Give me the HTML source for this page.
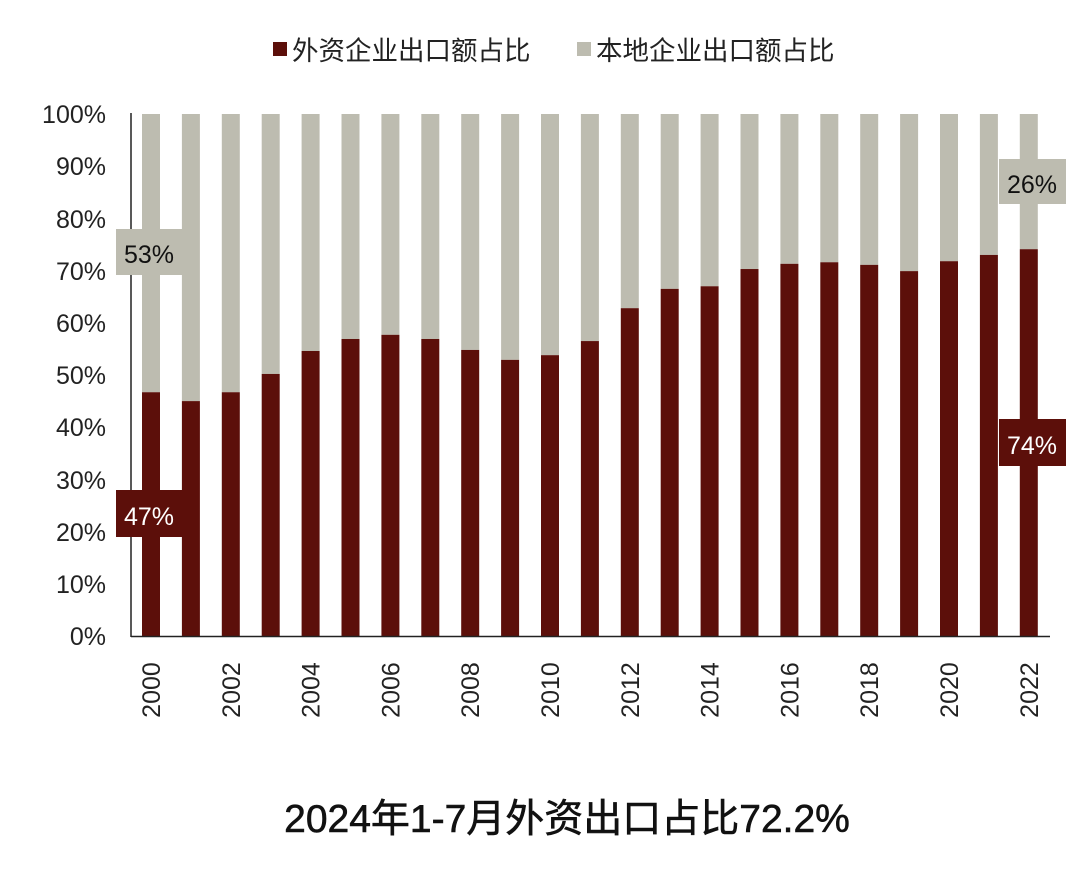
<!DOCTYPE html>
<html><head><meta charset="utf-8"><style>
body{margin:0;background:#fff;}
text{font-family:"Liberation Sans","Noto Sans CJK SC",sans-serif;}
</style></head><body>
<svg width="1080" height="880" xmlns="http://www.w3.org/2000/svg">
<rect width="1080" height="880" fill="#fff"/>
<rect x="273" y="42" width="14" height="14" fill="#5c0f0a"/>
<text x="292" y="60" font-size="26.5" fill="#222">外资企业出口额占比</text>
<rect x="577" y="42" width="14" height="14" fill="#bdbcb0"/>
<text x="596" y="60" font-size="26.5" fill="#222">本地企业出口额占比</text>
<g font-size="25" fill="#222" text-anchor="end">
<text x="106" y="645">0%</text>
<text x="106" y="593">10%</text>
<text x="106" y="541">20%</text>
<text x="106" y="489">30%</text>
<text x="106" y="436">40%</text>
<text x="106" y="384">50%</text>
<text x="106" y="332">60%</text>
<text x="106" y="280">70%</text>
<text x="106" y="228">80%</text>
<text x="106" y="175">90%</text>
<text x="106" y="123">100%</text>
</g>
<g id="bars"></g>
<line x1="131" y1="113" x2="131" y2="637" stroke="#222" stroke-width="1.5"/>
<line x1="131" y1="636.5" x2="1050" y2="636.5" stroke="#222" stroke-width="1.5"/>
<g id="xl" font-size="25" fill="#222"></g>
<rect x="116" y="229" width="67" height="46" fill="#bdbcb0"/>
<text x="149" y="263" font-size="25" fill="#111" text-anchor="middle">53%</text>
<rect x="116" y="490" width="67" height="47" fill="#5c0f0a"/>
<text x="149" y="525" font-size="25" fill="#fff" text-anchor="middle">47%</text>
<rect x="999" y="159" width="67" height="45" fill="#bdbcb0"/>
<text x="1032" y="193" font-size="25" fill="#111" text-anchor="middle">26%</text>
<rect x="999" y="419" width="67" height="47" fill="#5c0f0a"/>
<text x="1032" y="454" font-size="25" fill="#fff" text-anchor="middle">74%</text>
<text x="567" y="832" font-size="39" fill="#111" text-anchor="middle" stroke="#111" stroke-width="0.6">2024年1-7月外资出口占比72.2%</text>
</svg>
<script>
var v=[46.7,45,46.7,50.2,54.6,56.9,57.7,56.9,54.8,52.9,53.8,56.5,62.8,66.5,67,70.3,71.3,71.6,71.1,69.9,71.8,73,74.1];
var g=document.getElementById('bars'),xl=document.getElementById('xl'),s="",lab="";
for(var i=0;i<v.length;i++){var x=142+i*39.9,h=v[i]*5.22;
s+='<rect x="'+x+'" y="114" width="18" height="'+(522-h)+'" fill="#bdbcb0"/>';
s+='<rect x="'+x+'" y="'+(636-h)+'" width="18" height="'+h+'" fill="#5c0f0a"/>';
if(i%2==0){var cx=x+9+9;lab+='<text transform="translate('+cx+',690) rotate(-90)" text-anchor="middle">'+(2000+i)+'</text>';}
}
g.innerHTML=s;xl.innerHTML=lab;
</script>
</body></html>
